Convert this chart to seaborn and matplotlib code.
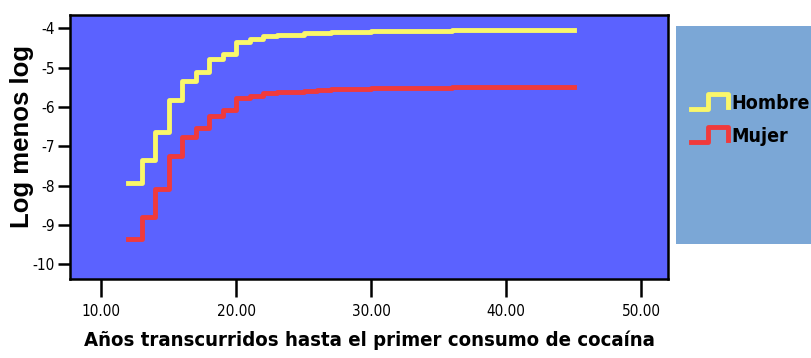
import numpy as np
import pandas as pd
import matplotlib
matplotlib.use("Agg")
import matplotlib.pyplot as plt
import seaborn as sns
from matplotlib.legend_handler import HandlerLine2D
from matplotlib.lines import Line2D
from matplotlib.patches import Rectangle

# años hasta el primer consumo (puntos de cambio de la escalera)
anios = [12, 13, 14, 15, 16, 17, 18, 19, 20, 21, 22, 23, 25, 26, 27, 28, 30, 33, 36, 40, 45]
hombre = [-7.93, -7.35, -6.63, -5.81, -5.33, -5.10, -4.79, -4.64, -4.34, -4.27, -4.20,
          -4.17, -4.13, -4.11, -4.09, -4.09, -4.06, -4.06, -4.05, -4.05, -4.05]
mujer = [-9.36, -8.79, -8.07, -7.25, -6.77, -6.54, -6.23, -6.08, -5.78, -5.71, -5.64,
         -5.61, -5.59, -5.56, -5.55, -5.53, -5.51, -5.51, -5.50, -5.50, -5.50]
grupos = ["Hombre", "Mujer"]
colores = {"Hombre": "#FAF76A", "Mujer": "#F03A3C"}
xticks = [10, 20, 30, 40, 50]
yticks = [-4, -5, -6, -7, -8, -9, -10]

df = pd.DataFrame({
    "anios": anios * 2,
    "loglog": hombre + mujer,
    "sexo": ["Hombre"] * len(anios) + ["Mujer"] * len(anios),
})

cond = dict(family="DejaVu Sans", stretch="condensed")

fig = plt.figure(figsize=(8.11, 3.58), dpi=100)
ax = fig.add_axes([0.0863, 0.2207, 0.7374, 0.7374])
ax.set_facecolor("#5B62FF")

sns.lineplot(data=df, x="anios", y="loglog", hue="sexo", palette=colores,
             estimator=None, drawstyle="steps-post", linewidth=3.5,
             legend=False, ax=ax)

ax.set_xlim(7.7, 52.0)
ax.set_ylim(-10.37, -3.66)
ax.set_xticks(xticks)
ax.set_xticklabels([f"{v:.2f}" for v in xticks], fontsize=11, **cond)
ax.set_yticks(yticks)
ax.set_yticklabels([str(v) for v in yticks], fontsize=11, **cond)
ax.tick_params(axis="x", length=13, width=1.8, direction="out", pad=5)
ax.tick_params(axis="y", length=9, width=1.8, direction="out", pad=2)
for s in ax.spines.values():
    s.set_linewidth(1.8)
    s.set_color("black")

ax.set_xlabel("Años transcurridos hasta el primer consumo de cocaína",
              fontsize=14.6, fontweight="bold", labelpad=8, **cond)
ax.set_ylabel("Log menos log", family="Liberation Sans", fontsize=18.5,
              fontweight="bold")
ax.yaxis.set_label_coords(-0.06, 0.54)


class StepHandler(HandlerLine2D):
    def create_artists(self, legend, orig_handle, xdescent, ydescent,
                       width, height, fontsize, trans):
        xs = np.array([0, 0.45, 0.45, 1.0, 1.0]) * width - xdescent
        ys = np.array([0, 0, 1.1, 1.1, 0.15]) * height - ydescent
        ln = Line2D(xs, ys, color=orig_handle.get_color(), linewidth=3.5)
        ln.set_transform(trans)
        return [ln]


fig.patches.append(Rectangle((0.8335, 0.318), 0.2, 0.609, transform=fig.transFigure,
                             facecolor="#7BA7D6", edgecolor="none"))
handles = [Line2D([], [], color=colores[g]) for g in grupos]
leg = fig.legend(handles, grupos, loc="upper left", bbox_to_anchor=(0.840, 0.765),
                 frameon=False, handler_map={Line2D: StepHandler()},
                 handlelength=1.9, handletextpad=0.2, labelspacing=0.75,
                 prop={"family": "DejaVu Sans", "stretch": "condensed",
                       "weight": "bold", "size": 14}, borderpad=0)

fig.savefig("out.png", dpi=100)
